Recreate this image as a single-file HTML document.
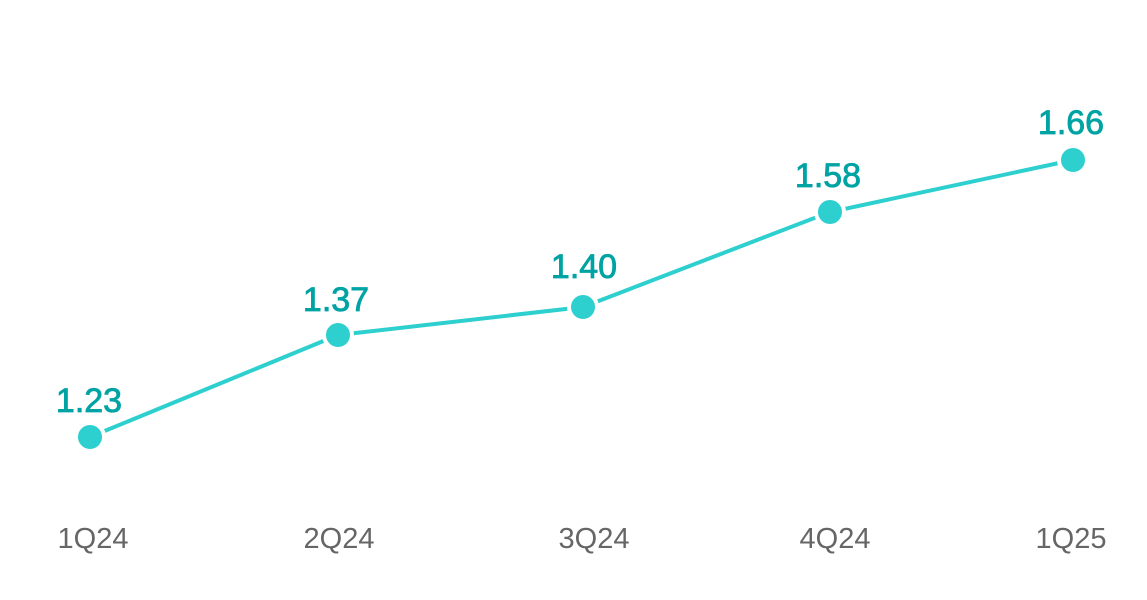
<!DOCTYPE html>
<html><head><style>body{margin:0;background:#fff}</style></head><body>
<svg width="1147" height="595" xmlns="http://www.w3.org/2000/svg">
<polyline points="90,437 338,335 583,307 830,212 1073,160" fill="none" stroke="#2ecfcf" stroke-width="4"/>
<g fill="#2ecfcf" stroke="#fff" stroke-width="4">
<circle cx="90" cy="437" r="14"/><circle cx="338" cy="335" r="14"/><circle cx="583" cy="307" r="14"/><circle cx="830" cy="212" r="14"/><circle cx="1073" cy="160" r="14"/>
</g>
<g font-family="Liberation Sans, sans-serif" font-size="34" fill="#00a3a3" stroke="#00a3a3" stroke-width="0.8" text-anchor="middle">
<text x="89" y="412">1.23</text><text x="336" y="311">1.37</text><text x="584" y="278">1.40</text><text x="828" y="187">1.58</text><text x="1071" y="134">1.66</text>
</g>
<g font-family="Liberation Sans, sans-serif" font-size="29" fill="#666" text-anchor="middle">
<text x="93" y="548">1Q24</text><text x="339" y="548">2Q24</text><text x="594" y="548">3Q24</text><text x="835" y="548">4Q24</text><text x="1071" y="548">1Q25</text>
</g>
</svg>
</body></html>
